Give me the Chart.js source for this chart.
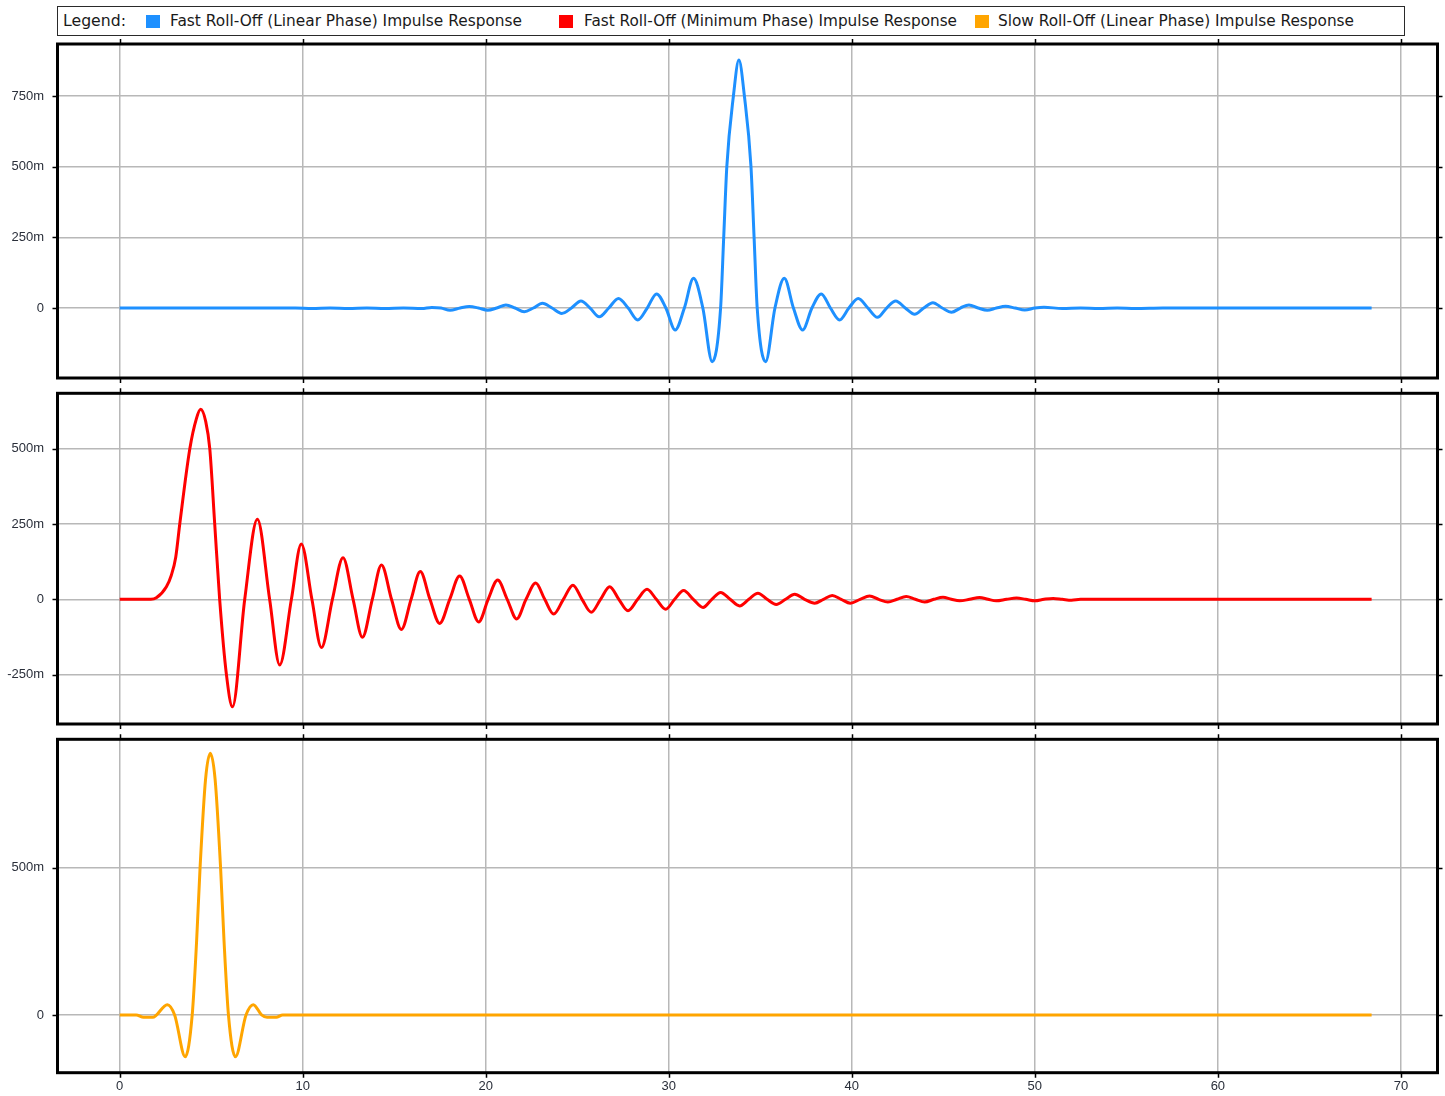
<!DOCTYPE html>
<html>
<head>
<meta charset="utf-8">
<script src="https://cdn.jsdelivr.net/npm/chart.js@4.4.1/dist/chart.umd.min.js"></script>
<style>
html,body{margin:0;padding:0;background:#fff;}
body{width:1445px;height:1096px;overflow:hidden;position:relative;font-family:"Liberation Sans",Arial,sans-serif;}
#legendBox{position:absolute;left:57px;top:6px;width:1348px;height:30px;border:1.5px solid #2a2a2a;box-sizing:border-box;}
.lt{position:absolute;top:6px;height:30px;line-height:30px;font-family:"DejaVu Sans",sans-serif;font-size:15px;color:#1a1a1a;white-space:nowrap;transform-origin:0 50%;}
.sw{position:absolute;top:15px;width:14px;height:13px;}
canvas{position:absolute;left:0;}
</style>
</head>
<body>
<div id="legendBox"></div>
<span class="lt" style="left:63px" data-w="63">Legend:</span>
<div class="sw" style="left:146px;background:#1e90ff"></div>
<span class="lt" style="left:170px" data-w="352">Fast Roll-Off (Linear Phase) Impulse Response</span>
<div class="sw" style="left:559px;background:#ff0000"></div>
<span class="lt" style="left:584px" data-w="373">Fast Roll-Off (Minimum Phase) Impulse Response</span>
<div class="sw" style="left:975px;background:#ffa500"></div>
<span class="lt" style="left:998px" data-w="356">Slow Roll-Off (Linear Phase) Impulse Response</span>
<canvas id="c1"></canvas>
<canvas id="c2"></canvas>
<canvas id="c3"></canvas>
<script>
// ---------- DATA ----------
const xAxisTicks = [0, 10, 20, 30, 40, 50, 60, 70];

const fastLinearYTicks = [0, 0.25, 0.5, 0.75];
const fastMinimumYTicks = [-0.25, 0, 0.25, 0.5];
const slowLinearYTicks = [0, 0.5];

// Fast Roll-Off (Linear Phase) impulse response
const fastLinearTime = [0, 9.6, 10.5, 11.5, 12.5, 13.5, 14.5, 15.5, 16.5, 17.05, 17.55, 18.05, 18.6, 19.1, 19.6, 20.1, 20.6, 21.1, 21.6, 22.1, 22.6, 23.1, 23.62, 24.15, 24.68, 25.2, 25.7, 26.2, 26.72, 27.25, 27.78, 28.3, 28.82, 29.33, 29.84, 30.35, 30.85, 31.35, 31.86, 32.37, 32.83, 33.0, 33.17, 33.53, 33.83, 34.13, 34.49, 34.66, 34.83, 35.29, 35.8, 36.31, 36.81, 37.31, 37.82, 38.33, 38.83, 39.33, 39.84, 40.35, 40.88, 41.4, 41.9, 42.4, 42.92, 43.43, 43.93, 44.43, 44.94, 45.45, 45.93, 46.4, 46.9, 47.4, 47.9, 48.4, 48.92, 49.45, 50.0, 50.5, 51.5, 52.5, 53.5, 54.5, 55.5, 57.0, 68.4];
const fastLinearValue = [0, 0, -0.002, 0, -0.002, 0, -0.002, 0, -0.002, 0.002, 0, -0.008, 0, 0.005, 0, -0.008, 0, 0.011, 0, -0.013, 0, 0.017, 0, -0.019, 0, 0.025, 0, -0.031, 0, 0.034, 0, -0.042, 0, 0.05, 0, -0.078, 0, 0.105, 0, -0.19, 0, 0.25, 0.5, 0.75, 0.877, 0.75, 0.5, 0.25, 0, -0.19, 0, 0.105, 0, -0.078, 0, 0.05, 0, -0.042, 0, 0.034, 0, -0.033, 0, 0.025, 0, -0.022, 0, 0.019, 0, -0.015, 0, 0.011, 0, -0.008, 0, 0.006, 0, -0.007, 0, 0.003, -0.002, 0, -0.002, 0, -0.002, 0, 0];

// Fast Roll-Off (Minimum Phase) impulse response
const fastMinimumTime = [0, 1.7, 2.0, 2.55, 2.82, 3.06, 3.28, 3.83, 4.19, 4.42, 4.7, 4.92, 5.19, 5.46, 5.83, 6.16, 6.83, 7.52, 8.19, 8.74, 9.38, 9.92, 10.5, 11.02, 11.62, 12.2, 12.75, 13.26, 13.8, 14.3, 14.85, 15.39, 15.92, 16.42, 16.95, 17.48, 18.03, 18.57, 19.1, 19.61, 20.13, 20.65, 21.17, 21.69, 22.2, 22.73, 23.22, 23.71, 24.24, 24.76, 25.26, 25.76, 26.27, 26.77, 27.27, 27.77, 28.3, 28.81, 29.32, 29.83, 30.32, 30.81, 31.34, 31.87, 32.35, 32.83, 33.35, 33.87, 34.37, 34.87, 35.37, 35.87, 36.38, 36.88, 37.42, 37.97, 38.45, 38.93, 39.42, 39.92, 40.45, 40.97, 41.47, 41.97, 42.47, 42.97, 43.47, 43.98, 44.48, 44.98, 45.44, 45.89, 46.44, 46.98, 47.44, 47.89, 48.45, 49.0, 49.5, 50.0, 50.5, 51.0, 51.5, 52.0, 52.5, 68.4];
const fastMinimumValue = [0, 0, 0.005, 0.042, 0.08, 0.14, 0.25, 0.5, 0.6, 0.631, 0.59, 0.5, 0.25, 0, -0.25, -0.357, 0, 0.266, 0, -0.218, 0, 0.184, 0, -0.16, 0, 0.138, 0, -0.126, 0, 0.114, 0, -0.1, 0, 0.092, 0, -0.08, 0, 0.077, 0, -0.075, 0, 0.064, 0, -0.065, 0, 0.054, 0, -0.049, 0, 0.047, 0, -0.043, 0, 0.042, 0, -0.038, 0, 0.033, 0, -0.033, 0, 0.029, 0, -0.027, 0, 0.023, 0, -0.022, 0, 0.02, 0, -0.017, 0, 0.017, 0, -0.013, 0, 0.013, 0, -0.013, 0, 0.011, 0, -0.009, 0, 0.009, 0, -0.009, 0, 0.007, 0, -0.005, 0, 0.006, 0, -0.005, 0, 0.004, 0, -0.005, 0, 0.003, 0, -0.003, 0, 0];

// Slow Roll-Off (Linear Phase) impulse response
const slowLinearTime = [0, 0.9, 1.3, 1.8, 2.6, 3.0, 3.58, 3.96, 4.2, 4.39, 4.69, 4.95, 5.21, 5.51, 5.7, 5.94, 6.32, 6.9, 7.3, 7.75, 8.05, 8.55, 8.9, 68.4];
const slowLinearValue = [0, 0, -0.008, -0.008, 0.035, 0, -0.142, 0, 0.25, 0.5, 0.8, 0.888, 0.8, 0.5, 0.25, 0, -0.142, 0, 0.035, 0, -0.008, -0.008, 0, 0];

// ---------- RENDER ----------
document.querySelectorAll('.lt').forEach(el => {
  const w = el.getBoundingClientRect().width;
  el.style.transform = 'scaleX(' + (parseFloat(el.dataset.w) / w) + ')';
});

function fmt(v) {
  if (Math.abs(v) < 1e-9) return '0';
  return Math.round(v * 1000) + 'm';
}

const framePlugin = {
  id: 'frame',
  afterDatasetsDraw(chart) {
    const { ctx, chartArea: a, scales } = chart;
    const x = scales.x, y = scales.y;
    ctx.save();
    ctx.strokeStyle = '#000';
    ctx.lineWidth = 1.5;
    ctx.beginPath();
    xAxisTicks.forEach(v => {
      const px = Math.round(x.getPixelForValue(v)) + 0.5;
      ctx.moveTo(px, a.top - 5); ctx.lineTo(px, a.top);
      ctx.moveTo(px, a.bottom); ctx.lineTo(px, a.bottom + 5);
    });
    y.ticks.forEach(t => {
      const py = Math.round(y.getPixelForValue(t.value)) + 0.5;
      ctx.moveTo(a.left - 5, py); ctx.lineTo(a.left, py);
      ctx.moveTo(a.right, py); ctx.lineTo(a.right + 5, py);
    });
    ctx.stroke();
    ctx.lineWidth = 3;
    ctx.strokeRect(a.left, a.top, a.right - a.left, a.bottom - a.top);
    ctx.restore();
  }
};

const panels = [
  { id: 'c1', label: 'Fast Roll-Off (Linear Phase) Impulse Response', top: 44, bottom: 378, yMin: -0.2476, yMax: 0.934, yTicks: fastLinearYTicks, t: fastLinearTime, v: fastLinearValue, color: '#1e90ff', xLabels: false },
  { id: 'c2', label: 'Fast Roll-Off (Minimum Phase) Impulse Response', top: 393.3, bottom: 724, yMin: -0.414, yMax: 0.684, yTicks: fastMinimumYTicks, t: fastMinimumTime, v: fastMinimumValue, color: '#ff0000', xLabels: false },
  { id: 'c3', label: 'Slow Roll-Off (Linear Phase) Impulse Response', top: 739.3, bottom: 1072.7, yMin: -0.196, yMax: 0.9355, yTicks: slowLinearYTicks, t: slowLinearTime, v: slowLinearValue, color: '#ffa500', xLabels: true }
];

const tickFont = { family: '"Liberation Sans", Arial, sans-serif', size: 13 };
const gridColor = '#b8b8b8';

panels.forEach(p => {
  const cv = document.getElementById(p.id);
  const canvasTop = Math.floor(p.top) - 8;
  const bottomSpace = p.xLabels ? 24 : 8;
  const canvasH = Math.ceil(p.bottom + bottomSpace - canvasTop);
  cv.style.top = canvasTop + 'px';
  cv.width = 1445; cv.height = canvasH;
  cv.style.width = '1445px'; cv.style.height = canvasH + 'px';
  const xAxisH = canvasTop + canvasH - p.bottom;
  const data = p.t.map((t, i) => ({ x: t, y: p.v[i] }));
  new Chart(cv, {
    type: 'line',
    data: { datasets: [{ label: p.label, data: data, borderColor: p.color, backgroundColor: p.color, borderWidth: 3, pointRadius: 0, cubicInterpolationMode: 'monotone', fill: false }] },
    options: {
      responsive: false, animation: false, devicePixelRatio: 1,
      layout: { padding: { left: 0, right: 7.5, top: p.top - canvasTop, bottom: 0 } },
      plugins: { legend: { display: false }, tooltip: { enabled: false } },
      scales: {
        x: {
          type: 'linear', min: -3.4, max: 72,
          afterBuildTicks: s => { s.ticks = xAxisTicks.map(v => ({ value: v })); },
          afterFit: s => { s.height = xAxisH; s.paddingLeft = 0; s.paddingRight = 0; s.paddingTop = 0; s.paddingBottom = 0; },
          grid: { color: gridColor, lineWidth: 1.5, drawTicks: false },
          border: { display: false },
          ticks: { display: p.xLabels, font: tickFont, color: '#2a2f3a', padding: 6, maxRotation: 0, callback: v => String(v) }
        },
        y: {
          type: 'linear', min: p.yMin, max: p.yMax,
          afterBuildTicks: s => { s.ticks = p.yTicks.map(v => ({ value: v })); },
          afterFit: s => { s.width = 57.5; s.paddingTop = 0; s.paddingBottom = 0; s.paddingLeft = 0; s.paddingRight = 0; },
          grid: { color: gridColor, lineWidth: 1.5, drawTicks: false },
          border: { display: false },
          ticks: { font: tickFont, color: '#2a2f3a', padding: 13.5, callback: v => fmt(v) }
        }
      }
    },
    plugins: [framePlugin]
  });
});
</script>
</body>
</html>
